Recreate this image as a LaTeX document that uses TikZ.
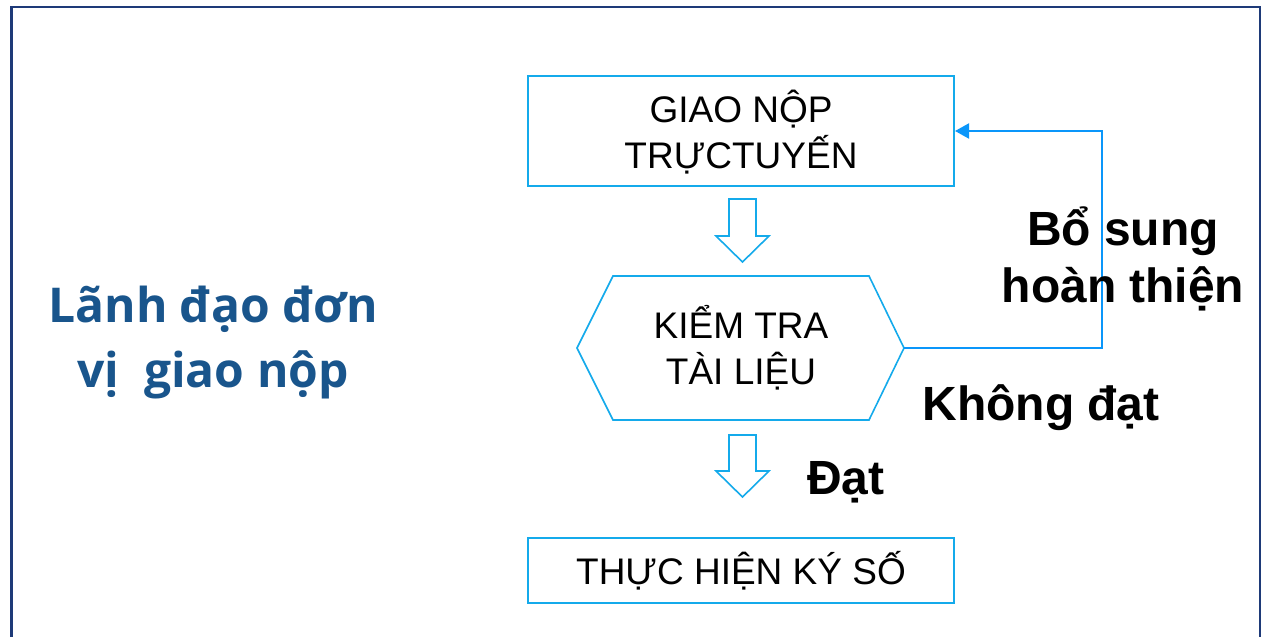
\documentclass[tikz,border=0pt]{standalone}
\usepackage{fontspec}
\setmainfont{Liberation Sans}
\newfontfamily\opensans{Open Sans}
\usetikzlibrary{arrows.meta}
\definecolor{frameblue}{RGB}{30,58,120}
\definecolor{boxblue}{RGB}{20,170,235}
\definecolor{connblue}{RGB}{10,150,250}
\definecolor{titleblue}{RGB}{25,85,140}
\begin{document}
\begin{tikzpicture}[x=1pt,y=-1pt,
  procbox/.style={draw=boxblue,line width=2pt,minimum width=426pt,inner sep=0pt},
  boxtext/.style={font=\fontsize{37}{46}\selectfont,align=center,text=black},
  blockarrow/.style={draw=boxblue,line width=1.6pt,fill=white,line join=miter},
  conn/.style={draw=connblue,line width=2pt},
  lbl/.style={font=\fontsize{48}{57}\selectfont\bfseries,align=center,text=black}]
\useasboundingbox (0,0) rectangle (1264,637);
% frame
\draw[frameblue,line width=2.5pt] (11.5,645) -- (11.5,7) -- (1260,7) -- (1260,645);
% boxes
\node[procbox,minimum height=110pt] (box1) at (741,131) {};
\node[boxtext] (t1) at (741,132) {GIAO NỘP\\TRỰCTUYẾN};
\node[procbox,minimum height=65pt] (box3) at (741,570.5) {};
\node[boxtext] (t3) at (741,571) {THỰC HIỆN KÝ SỐ};
% hexagon
\coordinate (hexW) at (577,348);
\coordinate (hexE) at (904,348);
\draw[draw=boxblue,line width=1.6pt] (hexW) -- (613,276) -- (869,276) -- (hexE) -- (869,420) -- (613,420) -- cycle;
\node[boxtext] (hex) at (741,348) {KIỂM TRA\\TÀI LIỆU};
% block arrows
\draw[blockarrow] (729,199) -- (756,199) -- (756,236) -- (769,236) -- (742.5,262) -- (716,236) -- (729,236) -- cycle;
\draw[blockarrow] (729,435) -- (756,435) -- (756,471) -- (769,471) -- (742.5,497) -- (716,471) -- (729,471) -- cycle;
% feedback connector
\draw[conn,-{Triangle[length=14pt,width=15pt]}] (hexE) -- ++(198,0) |- (box1.east);
% labels
\node[lbl] (dat) at (846,482) {Đạt};
\node[lbl] (khongdat) at (1041,408) {Không đạt};
\node[lbl] (bosung) at (1123,259) {Bổ sung\\hoàn thiện};
\node[font=\fontsize{48}{65}\selectfont\opensans\bfseries,text=titleblue,align=center] (lead) at (213,343) {Lãnh đạo đơn\\vị\ \ giao nộp};
\end{tikzpicture}
\end{document}
